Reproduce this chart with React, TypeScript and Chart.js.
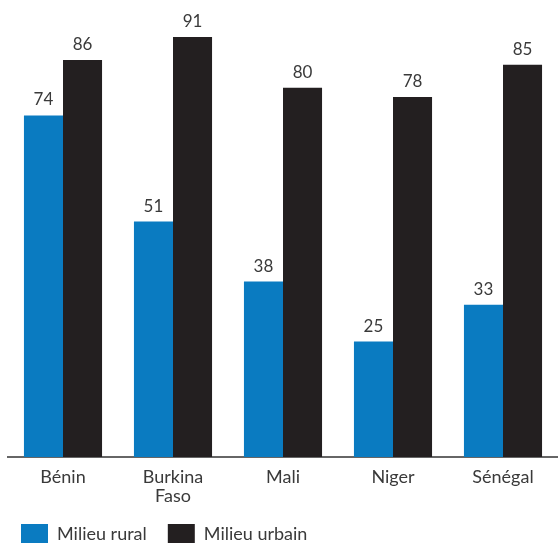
import React, { useEffect, useRef } from "react";
import { Chart, registerables } from "chart.js";

Chart.register(...registerables);

const categories: (string | string[])[] = ["Bénin", ["Burkina", "Faso"], "Mali", "Niger", "Sénégal"];
const rural = [74, 51, 38, 25, 33];
const urbain = [86, 91, 80, 78, 85];
const seriesNames = ["Milieu rural", "Milieu urbain"];

const FONT = "Lato, 'Noto Sans', sans-serif";
const TEXT = "#3a3a3a";

const valueLabels = {
  id: "valueLabels",
  afterDatasetsDraw(chart: any) {
    const ctx = chart.ctx;
    ctx.save();
    ctx.font = `17px ${FONT}`;
    ctx.fillStyle = TEXT;
    ctx.textAlign = "center";
    ctx.textBaseline = "alphabetic";
    chart.data.datasets.forEach((ds: any, i: number) => {
      const meta = chart.getDatasetMeta(i);
      meta.data.forEach((bar: any, j: number) => {
        ctx.fillText(String(ds.data[j]), bar.x, bar.y - 10);
      });
    });
    ctx.restore();
  },
};

const legendFit = {
  id: "legendFit",
  beforeUpdate(chart: any) {
    const lg = chart.legend;
    if (lg && !lg.__patched) {
      const orig = lg.fit.bind(lg);
      lg.fit = function () {
        orig();
        this.height = 40;
      };
      lg.__patched = true;
    }
  },
  afterLayout(chart: any) {
    if (chart.legend) {
      chart.legend.left = 0;
    }
  },
};

export default function App() {
  const ref = useRef<HTMLCanvasElement | null>(null);
  useEffect(() => {
    if (!ref.current) return;
    const chart = new Chart(ref.current, {
      type: "bar",
      data: {
        labels: categories,
        datasets: [
          { label: seriesNames[0], data: rural, backgroundColor: "#0a7bc1" },
          { label: seriesNames[1], data: urbain, backgroundColor: "#231f20" },
        ],
      },
      options: {
        animation: false,
        responsive: true,
        maintainAspectRatio: false,
        layout: { padding: { left: 8, right: 0, top: 0, bottom: 0 } },
        datasets: { bar: { categoryPercentage: 0.71, barPercentage: 1.0 } },
        scales: {
          x: {
            grid: { display: false, drawTicks: false, tickLength: 0 },
            border: { display: true, color: "#666", width: 2 },
            ticks: {
              color: TEXT,
              font: { family: FONT, size: 18, lineHeight: 1.05 },
              padding: 11,
              maxRotation: 0,
            },
            afterFit(scale: any) {
              scale.height = 46;
            },
          },
          y: { display: false, min: 0, max: 99 },
        },
        plugins: {
          legend: {
            position: "bottom",
            align: "start",
            labels: {
              color: TEXT,
              font: { family: FONT, size: 18 },
              boxWidth: 27,
              boxHeight: 20,
              padding: 21,
            },
          },
          tooltip: { enabled: false },
        },
      },
      plugins: [valueLabels, legendFit],
    });
    return () => chart.destroy();
  }, []);
  return (
    <div style={{ position: "fixed", left: 0, top: 0, width: 558, height: 543 }}>
      <canvas ref={ref} />
    </div>
  );
}
